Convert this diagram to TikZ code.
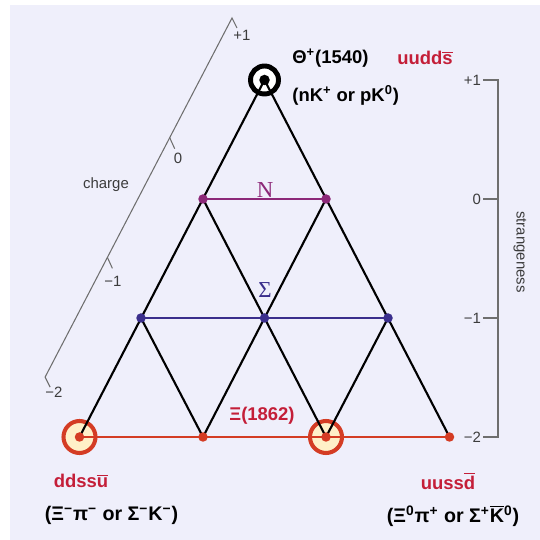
\documentclass[tikz,border=0pt]{standalone}
\usepackage{fontspec}
\setmainfont{Liberation Sans}
\newfontfamily\serifgreek{Liberation Serif}
\usetikzlibrary{positioning}
\definecolor{bgcol}{RGB}{239,239,251}
\definecolor{xired}{RGB}{212,60,36}
\definecolor{labred}{RGB}{196,30,56}
\definecolor{npurple}{RGB}{140,40,120}
\definecolor{sblue}{RGB}{58,46,140}
\definecolor{axisgrey}{RGB}{110,110,110}
\definecolor{axistext}{RGB}{60,60,60}
\definecolor{ringfill}{RGB}{255,240,200}
\newcommand{\obar}[1]{$\overline{\mbox{#1}}$}

\begin{document}
\begin{tikzpicture}[
    vert/.style={circle, fill=#1, inner sep=0pt, minimum size=0.19cm},
    edge/.style={line width=1.2pt},
    row/.style={line width=1.2pt, draw=#1},
    xiring/.style={draw=xired, line width=2.3pt, fill=ringfill},
    axis/.style={draw=axisgrey, line width=0.6pt},
    axlab/.style={text=axistext, font=\fontsize{8.5}{10}\selectfont, inner sep=1pt},
    multlab/.style={text=#1, font=\serifgreek\fontsize{13}{15}\selectfont, inner sep=0pt},
    partlab/.style={font=\bfseries\fontsize{10.5}{12}\selectfont, inner sep=0pt},
    decaylab/.style={font=\bfseries\fontsize{11.2}{13}\selectfont, inner sep=0pt},
    quarks/.style={partlab, text=labred}]
    \fill[white] (0,0) rectangle (10.8,10.8);
    \fill[bgcol] (0.2,0) rectangle (10.8,10.7);
    % lattice points
    \coordinate (T) at (5.29,9.20);
    \coordinate (N1) at (4.06,6.82);
    \coordinate (N2) at (6.52,6.82);
    \coordinate (S1) at (2.82,4.44);
    \coordinate (S2) at (5.29,4.44);
    \coordinate (S3) at (7.76,4.44);
    \coordinate (X1) at (1.59,2.06);
    \coordinate (X2) at (4.06,2.06);
    \coordinate (X3) at (6.52,2.06);
    \coordinate (X4) at (8.99,2.06);
    %%%
    \draw[line width=2.8pt, fill=white] (T) circle (0.28);
    \draw[xiring] (X1) circle (0.32);
    \draw[xiring] (X3) circle (0.32);
    %%%
    \draw[row=npurple] (N1) -- (N2);
    \draw[row=sblue] (S1) -- (S3);
    \draw[row=xired] (X1) -- (X4);
    %
    \draw[edge] (T) -- (X1);
    \draw[edge] (T) -- (X4);
    \draw[edge] (N1) -- (X3);
    \draw[edge] (N2) -- (X2);
    \draw[edge] (S1) -- (X2);
    \draw[edge] (S3) -- (X3);
    %%%
    \node(t) at (T) [vert=black, minimum size=0.21cm]{};
    \node(n1) at (N1) [vert=npurple]{};
    \node(n2) at (N2) [vert=npurple]{};
    \node(s1) at (S1) [vert=sblue]{};
    \node(s2) at (S2) [vert=sblue]{};
    \node(s3) at (S3) [vert=sblue]{};
    \node(x1) at (X1) [vert=xired]{};
    \node(x2) at (X2) [vert=xired]{};
    \node(x3) at (X3) [vert=xired]{};
    \node(x4) at (X4) [vert=xired]{};
    %%%
    \node(nlab) at (5.30,7.00) [multlab=npurple]{N};
    \node(slab) at (5.30,5.00) [multlab=sblue]{Σ};
    \node(xilab) at (5.24,2.48) [partlab, text=labred]{Ξ(1862)};
    %
    \node(theta) at (5.84,9.64) [partlab, anchor=west]{Θ\textsuperscript{+}(1540)};
    \node(thetaq) at (7.94,9.64) [quarks, anchor=west]{uudd\obar{s}};
    \node(thetad) at (5.84,8.90) [partlab, anchor=west]{(nK\textsuperscript{+} or pK\textsuperscript{0})};
    \node(xmq) at (1.62,1.18) [quarks]{ddss\obar{u}};
    \node(xmd) at (2.23,0.50) [decaylab]{(Ξ\textsuperscript{−}π\textsuperscript{−} or Σ\textsuperscript{−}K\textsuperscript{−})};
    \node(xpq) at (8.96,1.18) [quarks]{uuss\obar{d}};
    \node(xpd) at (9.06,0.48) [decaylab]{(Ξ\textsuperscript{0}π\textsuperscript{+} or Σ\textsuperscript{+}\obar{K}\textsuperscript{0})};
    %%% charge axis
    \coordinate (c1) at (4.64,10.44);
    \coordinate (c0) at (3.394,8.046);
    \coordinate (cm1) at (2.148,5.652);
    \coordinate (cm2) at (0.902,3.258);
    \draw[axis] ([shift={(0.1,-0.2)}]c1) -- (c1) -- (cm2) -- ++(0.1,-0.2);
    \draw[axis] (c0) -- ++(0.1,-0.22);
    \draw[axis] (cm1) -- ++(0.1,-0.22);
    \node(cl1) at (4.84,10.10) [axlab]{+1};
    \node(cl0) at (3.56,7.64) [axlab]{0};
    \node(clm1) at (2.26,5.18) [axlab]{−1};
    \node(clm2) at (1.08,2.96) [axlab]{−2};
    \node(charge) at (2.12,7.10) [axlab]{charge};
    %%% strangeness axis
    \coordinate (s1top) at (9.96,9.20);
    \coordinate (s1bot) at (9.96,2.06);
    \draw[axis] (9.66,9.20) -- (s1top) -- (s1bot) -- (9.66,2.06);
    \draw[axis] (9.66,6.82) -- (9.96,6.82);
    \draw[axis] (9.66,4.44) -- (9.96,4.44);
    \node(sl1) at (9.66,9.20) [axlab, anchor=east]{+1};
    \node(sl0) at (9.66,6.82) [axlab, anchor=east]{0};
    \node(slm1) at (9.66,4.44) [axlab, anchor=east]{−1};
    \node(slm2) at (9.66,2.06) [axlab, anchor=east]{−2};
    \node(strange) at (10.40,5.76) [axlab, rotate=-90]{strangeness};
\end{tikzpicture}
\end{document}
